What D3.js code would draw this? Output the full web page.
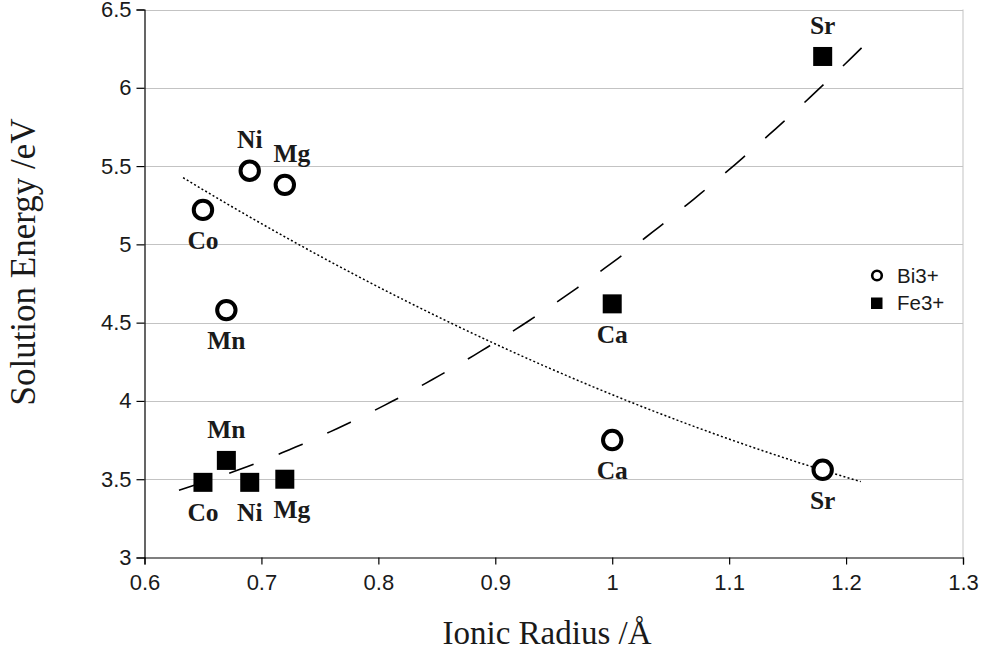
<!DOCTYPE html>
<html>
<head>
<meta charset="utf-8">
<script src="https://cdn.jsdelivr.net/npm/d3@7/dist/d3.min.js"></script>
<style>
  html, body { margin: 0; padding: 0; background: #fff; }
  svg { display: block; }
</style>
</head>
<body>
<svg id="chart" width="984" height="655"></svg>
<script>
// Dopant cations and their ionic radii (Å)
const elements = ["Co", "Mn", "Ni", "Mg", "Ca", "Sr"];
const ionicRadius = [0.65, 0.67, 0.69, 0.72, 1.00, 1.18];

// Solution energies (eV) for the two substitution sites
const bi3Energy = [5.22, 4.58, 5.47, 5.38, 3.75, 3.56];
const fe3Energy = [3.48, 3.62, 3.48, 3.50, 4.62, 6.20];

// Which side of its marker each element label sits on
const biLabelSide = ["below", "below", "above", "above", "below", "below"];
const feLabelSide = ["below", "above", "below", "below", "below", "above"];

// Second-order polynomial trendlines: y = c0 + c1*x + c2*x^2
const biTrendCoef = [9.086, -7.053, 2.007];
const biTrendRange = [0.633, 1.2126];
const feTrendCoef = [3.669, -3.087, 4.301];
const feTrendRange = [0.6295, 1.2163];

const seriesNames = ["Bi3+", "Fe3+"];
const xTickValues = [0.6, 0.7, 0.8, 0.9, 1.0, 1.1, 1.2, 1.3];
const xTickLabels = ["0.6", "0.7", "0.8", "0.9", "1", "1.1", "1.2", "1.3"];
const yTickValues = [3, 3.5, 4, 4.5, 5, 5.5, 6, 6.5];
const yTickLabels = ["3", "3.5", "4", "4.5", "5", "5.5", "6", "6.5"];

const svg = d3.select("#chart");
const plot = { left: 144.5, right: 963, top: 9.5, bottom: 557.5 };

const x = d3.scaleLinear().domain([0.6, 1.3]).range([plot.left, plot.right]);
const y = d3.scaleLinear().domain([3, 6.5]).range([plot.bottom, plot.top]);

const sansFont = "'Liberation Sans', Arial, sans-serif";
const serifFont = "'Liberation Serif', 'Times New Roman', serif";
const textColor = "#1a1a1a";
const gridColor = "#c3c3c3";

// Horizontal gridlines
svg.append("g")
  .selectAll("line")
  .data(yTickValues.filter(v => v > 3))
  .join("line")
  .attr("x1", plot.left).attr("x2", plot.right)
  .attr("y1", d => Math.round(y(d)) + 0.5).attr("y2", d => Math.round(y(d)) + 0.5)
  .attr("stroke", gridColor).attr("stroke-width", 1);

// Right border of the plot area
svg.append("line")
  .attr("x1", plot.right).attr("x2", plot.right)
  .attr("y1", plot.top).attr("y2", plot.bottom)
  .attr("stroke", gridColor).attr("stroke-width", 1);

// Y axis
const yAxis = svg.append("g")
  .attr("transform", `translate(${plot.left},0)`)
  .call(d3.axisLeft(y).tickValues(yTickValues)
    .tickFormat((d, i) => yTickLabels[i]).tickSize(8).tickPadding(5));
yAxis.select(".domain").attr("stroke", "#000").attr("stroke-width", 1.2);
yAxis.selectAll(".tick line").attr("stroke", "#000").attr("stroke-width", 1.2);
yAxis.selectAll("text").attr("font-family", sansFont).attr("font-size", 22)
  .attr("fill", textColor);

// X axis
const xAxis = svg.append("g")
  .attr("transform", `translate(0,${plot.bottom})`)
  .call(d3.axisBottom(x).tickValues(xTickValues)
    .tickFormat((d, i) => xTickLabels[i]).tickSize(7).tickPadding(10));
xAxis.select(".domain").attr("stroke", "#000").attr("stroke-width", 1.2);
xAxis.selectAll(".tick line").attr("stroke", "#000").attr("stroke-width", 1.2);
xAxis.selectAll("text").attr("font-family", sansFont).attr("font-size", 22)
  .attr("fill", textColor);

// Trendlines
function polyCurve(coef, range) {
  const xs = d3.range(0, 101).map(i => range[0] + (range[1] - range[0]) * i / 100);
  return xs.map(v => [v, coef[0] + coef[1] * v + coef[2] * v * v]);
}
const line = d3.line().x(d => x(d[0])).y(d => y(d[1]));

svg.append("path")
  .attr("d", line(polyCurve(biTrendCoef, biTrendRange)))
  .attr("fill", "none").attr("stroke", "#000").attr("stroke-width", 1.5)
  .attr("stroke-dasharray", "2,2.3");

svg.append("path")
  .attr("d", line(polyCurve(feTrendCoef, feTrendRange)))
  .attr("fill", "none").attr("stroke", "#000").attr("stroke-width", 1.6)
  .attr("stroke-dasharray", "26,27");

// Markers
const biPoints = elements.map((e, i) => ({ name: e, r: ionicRadius[i], v: bi3Energy[i], side: biLabelSide[i] }));
const fePoints = elements.map((e, i) => ({ name: e, r: ionicRadius[i], v: fe3Energy[i], side: feLabelSide[i] }));

svg.append("g").selectAll("circle")
  .data(biPoints)
  .join("circle")
  .attr("cx", d => x(d.r)).attr("cy", d => y(d.v))
  .attr("r", 9.2)
  .attr("fill", "#fff").attr("stroke", "#000").attr("stroke-width", 4);

const sq = 19;
svg.append("g").selectAll("rect")
  .data(fePoints)
  .join("rect")
  .attr("x", d => x(d.r) - sq / 2).attr("y", d => y(d.v) - sq / 2)
  .attr("width", sq).attr("height", sq)
  .attr("fill", "#000");

// Element labels
function addLabels(points) {
  svg.append("g").selectAll("text")
    .data(points)
    .join("text")
    .attr("x", d => x(d.r) + (d.name === "Mg" ? 7 : 0))
    .attr("y", d => y(d.v) + (d.side === "above" ? -22.5 : 39))
    .attr("text-anchor", "middle")
    .attr("font-family", serifFont).attr("font-weight", "bold")
    .attr("font-size", 25.5).attr("fill", textColor)
    .text(d => d.name);
}
addLabels(biPoints);
addLabels(fePoints);

// Legend
const legend = svg.append("g");
legend.append("circle")
  .attr("cx", 877).attr("cy", 275.5).attr("r", 4.8)
  .attr("fill", "#fff").attr("stroke", "#000").attr("stroke-width", 2.6);
legend.append("rect")
  .attr("x", 871).attr("y", 297.5).attr("width", 11.5).attr("height", 11.5)
  .attr("fill", "#000");
legend.selectAll("text")
  .data(seriesNames)
  .join("text")
  .attr("x", 897)
  .attr("y", (d, i) => 282.5 + i * 27.8)
  .attr("font-family", sansFont).attr("font-size", 20.5).attr("fill", textColor)
  .text(d => d);

// Axis titles
svg.append("text")
  .attr("x", 547).attr("y", 644)
  .attr("text-anchor", "middle")
  .attr("font-family", serifFont).attr("font-size", 33).attr("fill", textColor)
  .text("Ionic Radius /Å");

svg.append("text")
  .attr("transform", "translate(35,262) rotate(-90)")
  .attr("text-anchor", "middle")
  .attr("font-family", serifFont).attr("font-size", 35).attr("fill", textColor)
  .text("Solution Energy /eV");
</script>
</body>
</html>
